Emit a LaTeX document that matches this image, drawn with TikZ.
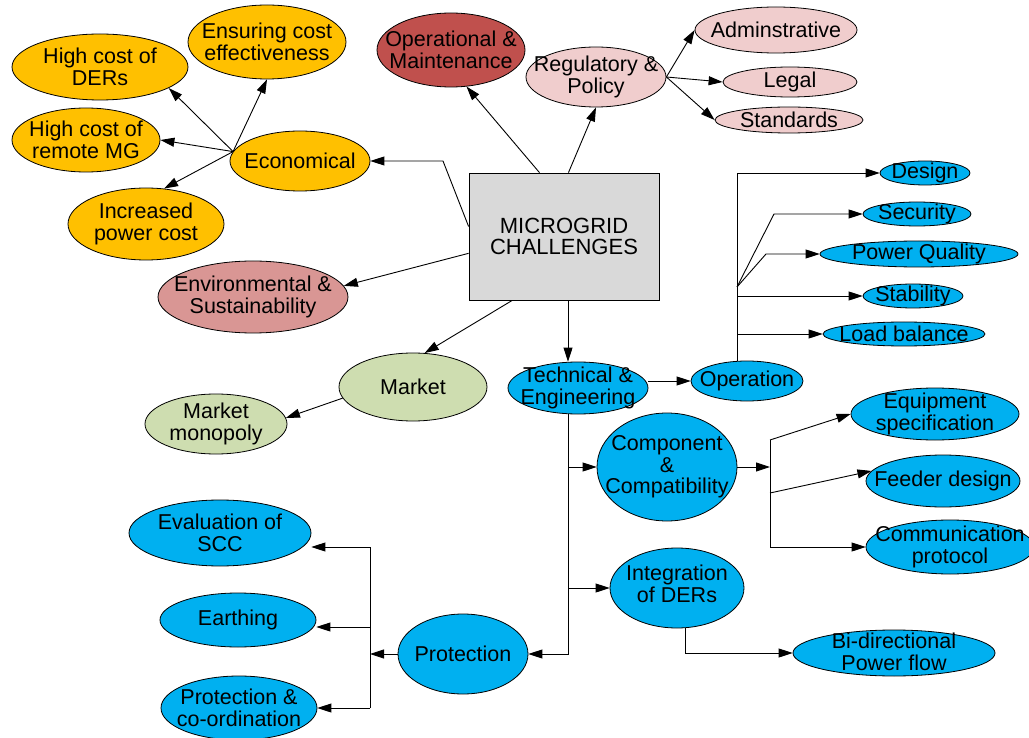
\documentclass[tikz,border=0pt]{standalone}
\usepackage{fontspec}
\setmainfont{Liberation Sans}
\usetikzlibrary{shapes.geometric,arrows.meta}
\definecolor{econfill}{HTML}{FFC000}
\definecolor{omfill}{HTML}{C0504D}
\definecolor{regfill}{HTML}{F0CDCD}
\definecolor{envfill}{HTML}{D99694}
\definecolor{mktfill}{HTML}{CEDDB0}
\definecolor{techfill}{HTML}{00B0F0}
\definecolor{boxfill}{HTML}{D9D9D9}
\begin{document}
\begin{tikzpicture}[x=1pt,y=-1pt,
  bub/.style={ellipse,draw=black,line width=0.8pt,inner sep=0pt},
  lbl/.style={align=center,inner sep=0pt,font=\fontsize{21.5}{21.5}\selectfont},
  arr/.style={draw=black,line width=0.9pt,-{Triangle[length=14pt,width=9pt]}},
  ln/.style={draw=black,line width=0.9pt}]
\useasboundingbox (0,0) rectangle (1029,738);
\fill[white] (0,0) rectangle (1029,738);

% central box
\node[draw=black,line width=0.8pt,fill=boxfill,minimum width=190,minimum height=127,
      align=center,font=\fontsize{22}{21}\selectfont] (box) at (564,236.5) {MICROGRID\\CHALLENGES};

% economical branch
\node[bub,fill=econfill,minimum width=176,minimum height=66,label={[lbl]center:High cost of\\DERs}] (hcd) at (100,67) {};
\node[bub,fill=econfill,minimum width=158,minimum height=74,label={[lbl]center:Ensuring cost\\effectiveness}] (ens) at (267,42) {};
\node[bub,fill=econfill,minimum width=148,minimum height=64,label={[lbl]center:High cost of\\remote MG}] (hcr) at (86,140) {};
\node[bub,fill=econfill,minimum width=140,minimum height=60,label={[lbl]center:Economical}] (econ) at (300,161) {};
\node[bub,fill=econfill,minimum width=156,minimum height=72,label={[lbl]center:Increased\\power cost}] (inc) at (146,224) {};

% operational and regulatory
\node[bub,fill=omfill,minimum width=148,minimum height=74,label={[lbl]center:Operational \&\\Maintenance}] (om) at (451,50) {};
\node[bub,fill=regfill,minimum width=140,minimum height=60,label={[lbl]center:Regulatory \&\\Policy}] (reg) at (596,77) {};
\node[bub,fill=regfill,minimum width=162,minimum height=46,label={[lbl]center:Adminstrative}] (adm) at (776,30) {};
\node[bub,fill=regfill,minimum width=134,minimum height=30,label={[lbl]center:Legal}] (legal) at (790,82) {};
\node[bub,fill=regfill,minimum width=148,minimum height=26,label={[lbl]center:Standards}] (std) at (789,120) {};

% environmental and market
\node[bub,fill=envfill,minimum width=190,minimum height=72,label={[lbl]center:Environmental \&\\Sustainability}] (env) at (253,297) {};
\node[bub,fill=mktfill,minimum width=148,minimum height=68,label={[lbl]center:Market}] (mkt) at (413,387) {};
\node[bub,fill=mktfill,minimum width=142,minimum height=60,label={[lbl]center:Market\\monopoly}] (mm) at (216,424) {};

% operation sub-items
\node[bub,fill=techfill,minimum width=90,minimum height=24,label={[lbl]center:Design}] (design) at (925,173) {};
\node[bub,fill=techfill,minimum width=108,minimum height=24,label={[lbl]center:Security}] (sec) at (917,214) {};
\node[bub,fill=techfill,minimum width=198,minimum height=26,label={[lbl]center:Power Quality}] (pq) at (919,254) {};
\node[bub,fill=techfill,minimum width=100,minimum height=24,label={[lbl]center:Stability}] (stab) at (913,296) {};
\node[bub,fill=techfill,minimum width=162,minimum height=24,label={[lbl]center:Load balance}] (lb) at (904,334) {};

% technical branch
\node[bub,fill=techfill,minimum width=140,minimum height=52,label={[lbl]center:Technical \&\\Engineering}] (tech) at (578,388) {};
\node[bub,fill=techfill,minimum width=112,minimum height=40,label={[lbl]center:Operation}] (op) at (747,381) {};
\node[bub,fill=techfill,minimum width=140,minimum height=108,label={[lbl]center:Component\\\&\\Compatibility}] (comp) at (667,467) {};
\node[bub,fill=techfill,minimum width=168,minimum height=52,label={[lbl]center:Equipment\\specification}] (equip) at (935,414) {};
\node[bub,fill=techfill,minimum width=154,minimum height=52,label={[lbl]center:Feeder design}] (feed) at (943,481) {};
\node[bub,fill=techfill,minimum width=168,minimum height=54,label={[lbl]center:Communication\\protocol}] (comm) at (950,547) {};
\node[bub,fill=techfill,minimum width=134,minimum height=80,label={[lbl,yshift=4pt]center:Integration\\of DERs}] (integ) at (677,588) {};
\node[bub,fill=techfill,minimum width=202,minimum height=46,label={[lbl,yshift=1pt]center:Bi-directional\\Power flow}] (bidir) at (894,653) {};
\node[bub,fill=techfill,minimum width=130,minimum height=80,label={[lbl]center:Protection}] (prot) at (463,654) {};
\node[bub,fill=techfill,minimum width=182,minimum height=66,label={[lbl]center:Evaluation of\\SCC}] (eval) at (220,533) {};
\node[bub,fill=techfill,minimum width=156,minimum height=54,label={[lbl]center:Earthing}] (earth) at (238,620) {};
\node[bub,fill=techfill,minimum width=156,minimum height=64,label={[lbl]center:Protection \&\\co-ordination}] (pc) at (239,708) {};

% routing points
\coordinate (eb) at (443,161);
\coordinate (tk) at (568,0);
\coordinate (ox) at (737,0);
\coordinate (fork) at (737,287);
\coordinate (sb) at (774,214);
\coordinate (pbend) at (766,254);
\coordinate (cb) at (770,467);
\coordinate (c1) at (770,440);
\coordinate (c2) at (770,493);
\coordinate (c3) at (770,547);
\coordinate (ix) at (685,0);
\coordinate (pj) at (370,654);
\coordinate (p1) at (370,547);
\coordinate (p2) at (370,627);
\coordinate (p3) at (370,708);

% from the central box
\draw[arr] (box.174) -- (eb) -- (econ.east);
\draw[arr] (box.190) -- (env.7);
\draw[arr] (box.111) -- (om.-67);
\draw[arr] (box.86) -- (reg.south);
\draw[arr] (box.231) -- (mkt.71);
\draw[arr] (box.south -| tk) -- (tech.north -| tk);

% economical
\draw[arr] (econ.172) -- (hcd.-17);
\draw[arr] (econ.172) -- (ens.south);
\draw[arr] (econ.172) -- (hcr.east);
\draw[arr] (econ.172) -- (inc.63);

% regulatory
\draw[arr] (reg.east) -- (adm.west);
\draw[arr] (reg.east) -- (legal.west);
\draw[arr] (reg.east) -- (std.west);

% market
\draw[arr] (mkt.189) -- (mm.5);

% technical
\draw[arr] (tech.east |- op.west) -- (op.west);
\draw[arr] (tech.south -| tk) |- (prot.east);
\draw[arr] (comp.west -| tk) -- (comp.west);
\draw[arr] (integ.west -| tk) -- (integ.west);

% operation
\draw[arr] (op.north -| ox) |- (design.west);
\draw[arr] (fork) -- (sb) -- (sec.west);
\draw[arr] (fork) -- (pbend) -- (pq.west);
\draw[arr] (stab.west -| ox) -- (stab.west);
\draw[arr] (lb.west -| ox) -- (lb.west);

% component
\draw[arr] (comp.east) -- (cb);
\draw[ln] (c1) -- (c3);
\draw[arr] (c1) -- (equip.west);
\draw[arr] (c2) -- (feed.172);
\draw[arr] (c3) -- (comm.west);

% integration
\draw[arr] (integ.south -| ix) |- (bidir.west);

% protection
\draw[arr] (prot.west) -- (pj);
\draw[ln] (p1) -- (p3);
\draw[arr] (p1) -- (eval.east |- p1);
\draw[arr] (p2) -- (earth.east |- p2);
\draw[arr] (p3) -- (pc.east);
\end{tikzpicture}
\end{document}
